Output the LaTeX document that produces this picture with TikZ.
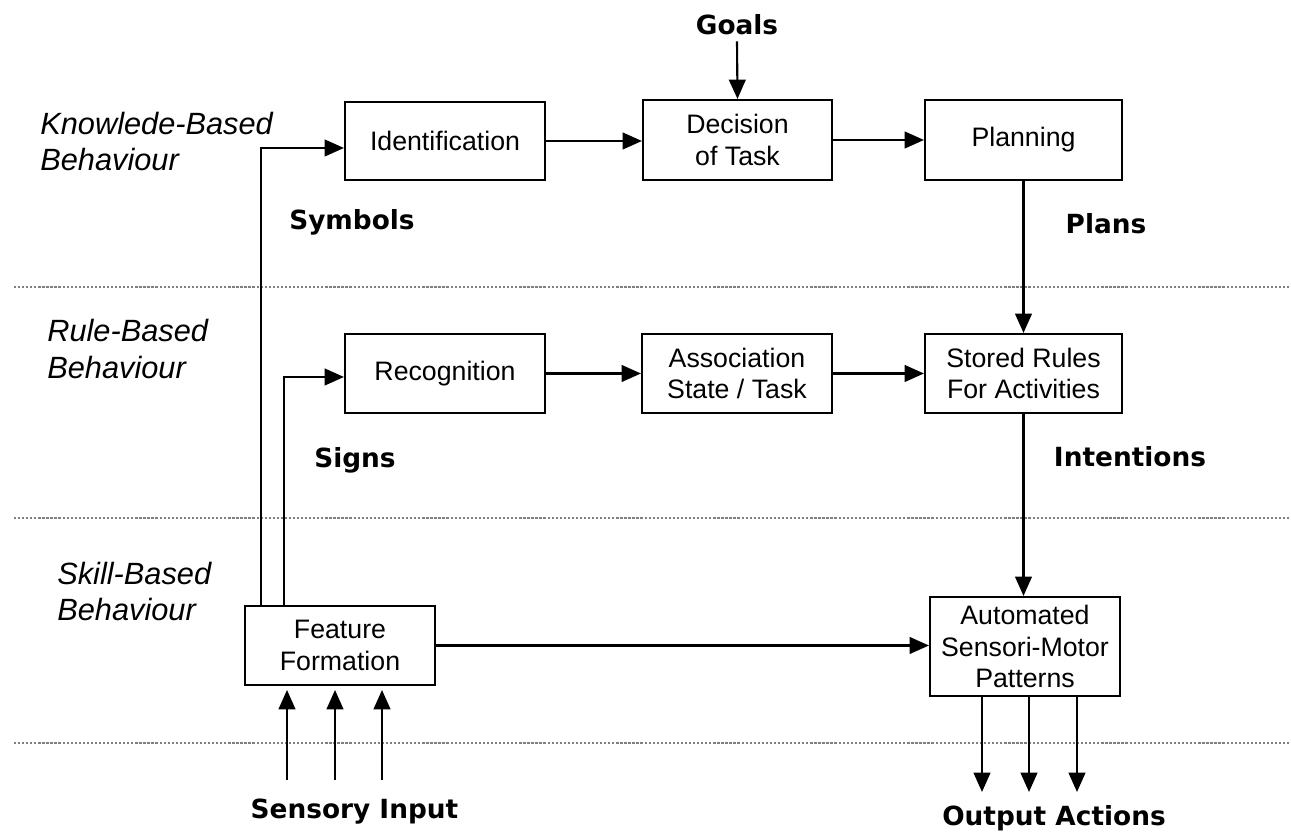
\documentclass[tikz,border=0pt]{standalone}
\usepackage{fontspec}
\setmainfont{Liberation Sans}
\newfontfamily\labelfont{DejaVu Sans}
\usetikzlibrary{arrows.meta}
\begin{document}
\begin{tikzpicture}[x=1cm,y=1cm,
  box/.style={draw,line width=1.2pt,align=center,font=\fontsize{15.2}{17.8}\selectfont,inner sep=2pt},
  level/.style={anchor=west,align=left,inner sep=0pt,font=\fontsize{17.5}{21}\selectfont\itshape},
  tag/.style={font=\labelfont\bfseries\fontsize{15}{18}\selectfont},
  flow/.style={line width=1.2pt,-{Triangle[length=11pt,width=9.5pt]}},
  sep/.style={gray,densely dotted,line width=1.3pt}]
\useasboundingbox (0,0) rectangle (25.82,16.66);
% layer separators
\draw[sep] (0.28,10.92) -- (25.82,10.92);
\draw[sep] (0.28,6.30) -- (25.82,6.30);
\draw[sep] (0.28,1.80) -- (25.82,1.80);
% level names
\node[level] (kbb) at (0.80,13.83) {Knowlede-Based\\Behaviour};
\node[level] (rbb) at (0.94,9.68) {Rule-Based\\Behaviour};
\node[level] (sbb) at (1.14,4.83) {Skill-Based\\Behaviour};
% boxes
\node[box,minimum width=4.0cm,minimum height=1.56cm] (ident) at (8.90,13.84) {Identification};
\node[box,minimum width=3.78cm,minimum height=1.6cm] (decision) at (14.75,13.86) {Decision\\of Task};
\node[box,minimum width=3.94cm,minimum height=1.6cm] (planning) at (20.47,13.86) {Planning};
\node[box,minimum width=4.0cm,minimum height=1.58cm] (recog) at (8.90,9.19) {Recognition};
\node[box,minimum width=3.8cm,minimum height=1.58cm] (assoc) at (14.74,9.19) {Association\\State / Task};
\node[box,minimum width=3.94cm,minimum height=1.58cm] (stored) at (20.47,9.19) {Stored Rules\\For Activities};
\node[box,minimum width=3.8cm,minimum height=1.58cm] (feat) at (6.80,3.75) {Feature\\Formation};
\node[box,minimum width=3.8cm,minimum height=1.98cm] (auto) at (20.50,3.73) {Automated\\Sensori-Motor\\Patterns};
% bold labels
\node[tag] (goals) at (14.74,16.16) {Goals};
\node[tag] (symbols) at (7.04,12.22) {Symbols};
\node[tag] (plans) at (22.12,12.18) {Plans};
\node[tag] (signs) at (7.10,7.46) {Signs};
\node[tag] (intentions) at (22.60,7.52) {Intentions};
\node[tag] (sensory) at (7.09,0.42) {Sensory Input};
\node[tag] (output) at (21.08,0.30) {Output Actions};
% main flow
\draw[flow] (goals.south) -- (decision.north);
\draw[flow] (ident.east) -- (ident.east -| decision.west);
\draw[flow] (decision.east) -- (decision.east -| planning.west);
\draw[flow] (recog.east) -- (recog.east -| assoc.west);
\draw[flow] (assoc.east) -- (assoc.east -| stored.west);
\draw[flow] (planning.south) -- (stored.north);
\draw[flow] (stored.south) -- (stored.south |- auto.north);
\draw[flow] (feat.east) -- (feat.east -| auto.west);
% shortcuts up from feature formation
\coordinate (kb) at (5.22,13.70);
\coordinate (rb) at (5.68,9.12);
\draw[flow] (kb |- feat.north) -- (kb) -- (kb -| ident.west);
\draw[flow] (rb |- feat.north) -- (rb) -- (rb -| recog.west);
% inputs and outputs
\foreach \x in {5.74,6.70,7.64}
  \draw[flow] (\x,1.06) -- (\x,2.86);
\foreach \x in {19.64,20.58,21.54}
  \draw[flow] (\x,0 |- auto.south) -- (\x,0.82);
\end{tikzpicture}
\end{document}
